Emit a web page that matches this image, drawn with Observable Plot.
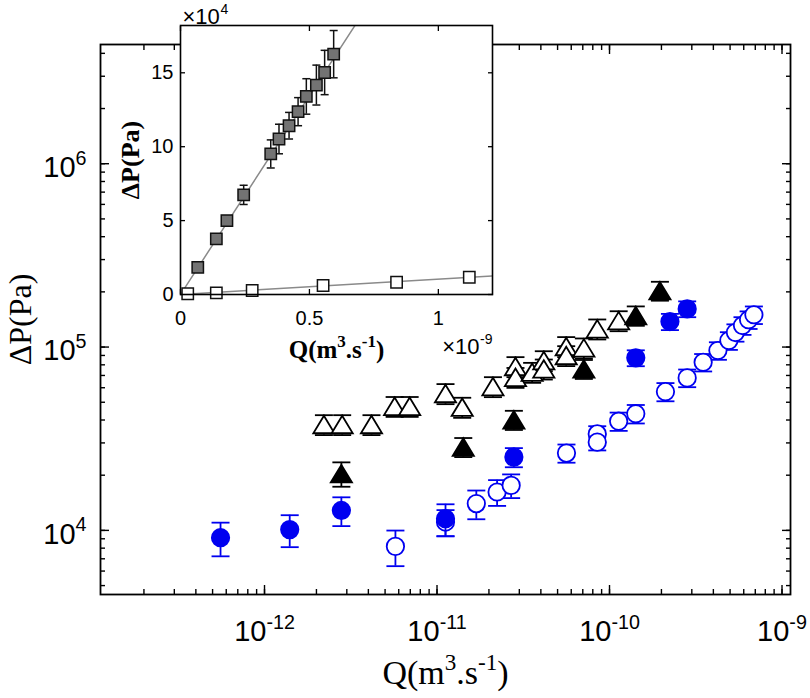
<!DOCTYPE html>
<html><head><meta charset="utf-8">
<script src="https://cdn.jsdelivr.net/npm/d3@7"></script>
<script src="https://cdn.jsdelivr.net/npm/@observablehq/plot@0.6"></script>
<style>
html,body{margin:0;padding:0;background:#fff;}
#wrap{position:relative;width:810px;height:698px;overflow:hidden;}
#wrap svg{position:absolute;overflow:visible;}
</style></head><body><div id="wrap"></div>
<script>
// ---------------- main plot data (log-log) ----------------
const openBlueQ = [5.74e-12, 1.12e-11, 1.69e-11, 2.23e-11, 2.69e-11, 5.63e-11, 8.49e-11, 8.49e-11, 1.13e-10, 1.42e-10, 2.11e-10, 2.82e-10, 3.49e-10, 4.25e-10, 4.92e-10, 5.37e-10, 5.9e-10, 6.4e-10, 6.87e-10];
const openBlueP = [8.18e3, 1.11e4, 1.40e4, 1.62e4, 1.76e4, 2.64e4, 3.36e4, 3.03e4, 3.94e4, 4.33e4, 5.71e4, 6.79e4, 8.26e4, 9.57e4, 1.085e5, 1.2e5, 1.31e5, 1.41e5, 1.50e5];
const openBlueE = [1.8e3, 1.8e3, 2.5e3, 2.6e3, 2.6e3, 3.0e3, 3.4e3, 3.0e3, 4.5e3, 5e3, 6.5e3, 7.5e3, 9e3, 1.05e4, 1.2e4, 1.3e4, 1.45e4, 1.55e4, 1.65e4];

const filledBlueQ = [5.56e-13, 1.40e-12, 2.79e-12, 1.12e-11, 2.79e-11, 1.42e-10, 2.24e-10, 2.82e-10];
const filledBlueP = [9.12e3, 1.01e4, 1.285e4, 1.158e4, 2.51e4, 8.73e4, 1.377e5, 1.615e5];
const filledBlueE = [1.9e3, 2.0e3, 2.3e3, 2.3e3, 3.0e3, 8.7e3, 1.4e4, 1.6e4];

const openTriQ = [2.21e-12, 2.82e-12, 4.17e-12, 5.68e-12, 6.94e-12, 1.12e-11, 1.40e-11, 2.11e-11, 2.85e-11, 2.85e-11, 3.56e-11, 4.16e-11, 4.16e-11, 5.61e-11, 5.61e-11, 7.10e-11, 8.49e-11, 1.13e-10];
const openTriP = [3.78e4, 3.78e4, 3.78e4, 4.75e4, 4.75e4, 5.58e4, 4.70e4, 6.09e4, 7.83e4, 6.84e4, 7.29e4, 8.44e4, 7.6e4, 1.007e5, 8.99e4, 9.9e4, 1.257e5, 1.394e5];
const openTriE = [4.7e3, 4.7e3, 4.7e3, 5.9e3, 5.9e3, 7e3, 5.9e3, 7.6e3, 9.8e3, 8.5e3, 9.1e3, 1.05e4, 9.5e3, 1.26e4, 1.12e4, 1.24e4, 1.57e4, 1.74e4];

const filledTriQ = [2.79e-12, 1.42e-11, 2.79e-11, 7.1e-11, 1.42e-10, 1.96e-10];
const filledTriP = [2.04e4, 2.85e4, 4.01e4, 7.6e4, 1.486e5, 2.03e5];
const filledTriE = [3.1e3, 3.4e3, 4.8e3, 9e3, 1.8e4, 2.4e4];

const xDomain = [1.12e-13, 1.12e-9];
const yDomain = [4.47e3, 4.47e6];
const xTickMajor = [1e-12, 1e-11, 1e-10, 1e-9];
const xTickLabels = ["10^{-12}", "10^{-11}", "10^{-10}", "10^{-9}"];
const yTickMajor = [1e4, 1e5, 1e6];
const yTickLabels = ["10^{4}", "10^{5}", "10^{6}"];
const xLabel = "Q(m^{3}.s^{-1})";
const yLabel = "ΔP(Pa)";

// ---------------- inset data (linear) ----------------
const graySqQ = [0.067e-9, 0.139e-9, 0.180e-9, 0.245e-9, 0.350e-9, 0.382e-9, 0.421e-9, 0.456e-9, 0.488e-9, 0.527e-9, 0.559e-9, 0.594e-9];
const graySqP = [1.84e4, 3.76e4, 5.0e4, 6.74e4, 9.51e4, 10.52e4, 11.42e4, 12.37e4, 13.4e4, 14.17e4, 15.02e4, 16.26e4];
const graySqE = [500, 800, 1500, 6500, 9500, 10000, 9000, 9500, 12000, 13500, 15000, 16000];
const whiteSqQ = [0.028e-9, 0.139e-9, 0.278e-9, 0.553e-9, 0.838e-9, 1.12e-9];
const whiteSqP = [500, 1100, 2700, 6100, 8300, 11700];
const whiteSqE = [300, 300, 400, 600, 700, 800];
const grayFitQ = [0, 0.7e-9];
const grayFitP = [0, 1.883e5];
const whiteFitQ = [0, 1.21e-9];
const whiteFitP = [0, 1.26e4];
const insetXDomain = [0, 1.21e-9];
const insetYDomain = [0, 1.82e5];
const insetXTicks = [0, 0.5e-9, 1e-9];
const insetXLabels = ["0", "0.5", "1"];
const insetYTicks = [0, 5e4, 10e4, 15e4];
const insetYLabels = ["0", "5", "10", "15"];
const insetExpBase = "×10";
const insetXExp = "-9";
const insetYExp = "4";

// ---------------- helpers ----------------
const sans = "'Liberation Sans', Arial, Helvetica, sans-serif";
const serif = "'Liberation Serif', 'Times New Roman', serif";
const rows = (Q, P, E) => Q.map((q, i) => ({q, p: P[i], e: E ? E[i] : 0}));
const capSym = {draw(ctx, size) { const w = Math.sqrt(size / Math.PI); ctx.moveTo(-w, 0); ctx.lineTo(w, 0); }};
const triSym = {draw(ctx, size) { const s = Math.sqrt(size / Math.PI); ctx.moveTo(0, -s * 0.95); ctx.lineTo(s * 1.15, s * 0.95); ctx.lineTo(-s * 1.15, s * 0.95); ctx.closePath(); }};

function errMarks(data, color, sym, r, fill, capR, sw) {
  return [
    Plot.ruleX(data, {x: "q", y1: d => d.p - d.e, y2: d => d.p + d.e, stroke: color, strokeWidth: sw}),
    Plot.dot(data, {x: "q", y: d => d.p + d.e, symbol: capSym, r: capR, stroke: color, strokeWidth: sw, fill: "none"}),
    Plot.dot(data, {x: "q", y: d => d.p - d.e, symbol: capSym, r: capR, stroke: color, strokeWidth: sw, fill: "none"}),
    Plot.dot(data, {x: "q", y: "p", symbol: sym, r, fill, stroke: color, strokeWidth: sw})
  ];
}

// turn "a^{b}c" strings into text with raised tspans; sizeFor gives the base font size
function supify(svg, sizeFor) {
  d3.select(svg).selectAll("text").each(function () {
    const t = this.textContent;
    if (!t.includes("^{")) return;
    const fs = sizeFor(t);
    const sel = d3.select(this);
    sel.attr("font-size", fs).text("");
    const parts = t.split(/(\^\{[^}]*\})/).filter(s => s.length);
    let raised = false;
    const up = fs * 0.42;
    parts.forEach(part => {
      if (part.startsWith("^{")) {
        sel.append("tspan").attr("dy", -up).attr("font-size", fs * 0.68).text(part.slice(2, -1));
        raised = true;
      } else {
        const ts = sel.append("tspan").attr("font-size", fs).text(part);
        if (raised) { ts.attr("dy", up); raised = false; }
      }
    });
  });
}

const blue = "#0000f0";
const TICK = 29, XLAB = 34;

// ---------------- main plot ----------------
const main = Plot.plot({
  width: 810, height: 698,
  marginLeft: 100, marginRight: 20, marginTop: 44, marginBottom: 104,
  style: {background: "transparent", fontFamily: sans, color: "#000"},
  x: {type: "log", domain: xDomain},
  y: {type: "log", domain: yDomain},
  marks: [
    Plot.axisX({anchor: "bottom", ticks: 40, tickSize: -5, tickFormat: () => "", label: null, strokeWidth: 1.4}),
    Plot.axisX({anchor: "top", ticks: 40, tickSize: -5, tickFormat: () => "", label: null, strokeWidth: 1.4}),
    Plot.axisX(xTickMajor, {anchor: "bottom", tickSize: -9, tickFormat: () => "", label: null, strokeWidth: 1.4}),
    Plot.axisX(xTickMajor, {anchor: "top", tickSize: -9, tickFormat: () => "", label: null, strokeWidth: 1.4}),
    Plot.axisY({anchor: "left", ticks: 40, tickSize: -5, tickFormat: () => "", label: null, strokeWidth: 1.4}),
    Plot.axisY({anchor: "right", ticks: 40, tickSize: -5, tickFormat: () => "", label: null, strokeWidth: 1.4}),
    Plot.axisY(yTickMajor, {anchor: "left", tickSize: -9, tickFormat: () => "", label: null, strokeWidth: 1.4}),
    Plot.axisY(yTickMajor, {anchor: "right", tickSize: -9, tickFormat: () => "", label: null, strokeWidth: 1.4}),
    ...errMarks(rows(openBlueQ, openBlueP, openBlueE), blue, "circle", 8.7, "white", 9, 1.8),
    ...errMarks(rows(filledBlueQ, filledBlueP, filledBlueE), blue, "circle", 8.7, blue, 9, 1.8),
    ...errMarks(rows(openTriQ, openTriP, openTriE), "#000", triSym, 9.2, "white", 9, 1.8),
    ...errMarks(rows(filledTriQ, filledTriP, filledTriE), "#000", triSym, 9.2, "#000", 9, 1.8),
    Plot.frame({stroke: "#000", strokeWidth: 1.8}),
    Plot.text(xTickMajor, {x: d => d, text: (d, i) => xTickLabels[i], frameAnchor: "bottom", dy: 37, fontSize: TICK, textAnchor: "middle", lineAnchor: "middle", fill: "#000"}),
    Plot.text(yTickMajor, {y: d => d, text: (d, i) => yTickLabels[i], frameAnchor: "left", dx: -14, dy: 4, textAnchor: "end", lineAnchor: "middle", fontSize: TICK, fill: "#000"}),
    Plot.text([xLabel], {text: d => d, frameAnchor: "bottom", dy: 79, fontSize: XLAB, textAnchor: "middle", lineAnchor: "middle", fontFamily: serif, fill: "#000"}),
    Plot.text([yLabel], {text: d => d, frameAnchor: "left", dx: -80, rotate: -90, textAnchor: "middle", lineAnchor: "middle", fontSize: 32, fontFamily: serif, fill: "#000"})
  ]
});
main.style.left = "0px"; main.style.top = "0px";
document.getElementById("wrap").appendChild(main);
supify(main, t => t.startsWith("Q") ? XLAB : TICK);

// ---------------- inset ----------------
const ITICK = 20, IBASE = 22, IEXP = 14, ILAB = 25;
const inset = Plot.plot({
  width: 402, height: 370,
  marginLeft: 80, marginRight: 10, marginTop: 25, marginBottom: 76,
  style: {background: "transparent", fontFamily: sans, color: "#000"},
  x: {type: "linear", domain: insetXDomain},
  y: {type: "linear", domain: insetYDomain},
  marks: [
    Plot.frame({fill: "white", stroke: "none"}),
    Plot.axisX(insetXTicks, {anchor: "bottom", tickSize: -5, tickFormat: () => "", label: null, strokeWidth: 1.3}),
    Plot.axisX(insetXTicks, {anchor: "top", tickSize: -5, tickFormat: () => "", label: null, strokeWidth: 1.3}),
    Plot.axisY(insetYTicks, {anchor: "left", tickSize: -5, tickFormat: () => "", label: null, strokeWidth: 1.3}),
    Plot.axisY(insetYTicks, {anchor: "right", tickSize: -5, tickFormat: () => "", label: null, strokeWidth: 1.3}),
    Plot.line(rows(grayFitQ, grayFitP), {x: "q", y: "p", stroke: "#8a8a8a", strokeWidth: 1.5, clip: true}),
    Plot.line(rows(whiteFitQ, whiteFitP), {x: "q", y: "p", stroke: "#8a8a8a", strokeWidth: 1.5, clip: true}),
    ...errMarks(rows(graySqQ, graySqP, graySqE), "#111", "square", 6.4, "#737373", 4, 1.5),
    ...errMarks(rows(whiteSqQ, whiteSqP, whiteSqE), "#111", "square", 6.4, "white", 3, 1.5),
    Plot.frame({stroke: "#000", strokeWidth: 1.6}),
    Plot.text(insetXTicks, {x: d => d, text: (d, i) => insetXLabels[i], frameAnchor: "bottom", dy: 24, textAnchor: "middle", lineAnchor: "middle", fontSize: ITICK, fill: "#000"}),
    Plot.text(insetYTicks, {y: d => d, text: (d, i) => insetYLabels[i], frameAnchor: "left", dx: -7, textAnchor: "end", lineAnchor: "middle", fontSize: ITICK, fill: "#000"}),
    // ×10^4 above the top-left corner
    Plot.text([insetExpBase], {text: d => d, frameAnchor: "top-left", dx: 2, dy: -9, textAnchor: "start", lineAnchor: "middle", fontSize: IBASE, fill: "#000"}),
    Plot.text([insetYExp], {text: d => d, frameAnchor: "top-left", dx: 40, dy: -16, textAnchor: "start", lineAnchor: "middle", fontSize: IEXP, fill: "#000"}),
    // ×10^-9 below the bottom-right corner
    Plot.text([insetExpBase], {text: d => d, frameAnchor: "bottom-right", dx: -13, dy: 52, textAnchor: "end", lineAnchor: "middle", fontSize: IBASE, fill: "#000"}),
    Plot.text([insetXExp], {text: d => d, frameAnchor: "bottom-right", dx: 0, dy: 45, textAnchor: "end", lineAnchor: "middle", fontSize: IEXP, fill: "#000"}),
    Plot.text([xLabel], {text: d => d, frameAnchor: "bottom", dy: 55, textAnchor: "middle", lineAnchor: "middle", fontSize: ILAB, fontWeight: "bold", fontFamily: serif, fill: "#000"}),
    Plot.text([yLabel], {text: d => d, frameAnchor: "left", dx: -50, rotate: -90, textAnchor: "middle", lineAnchor: "middle", fontSize: 26, fontWeight: "bold", fontFamily: serif, fill: "#000"})
  ]
});
inset.style.left = "100px"; inset.style.top = "0px";
document.getElementById("wrap").appendChild(inset);
supify(inset, t => t.startsWith("Q") ? ILAB : ITICK);
</script>
</body></html>
